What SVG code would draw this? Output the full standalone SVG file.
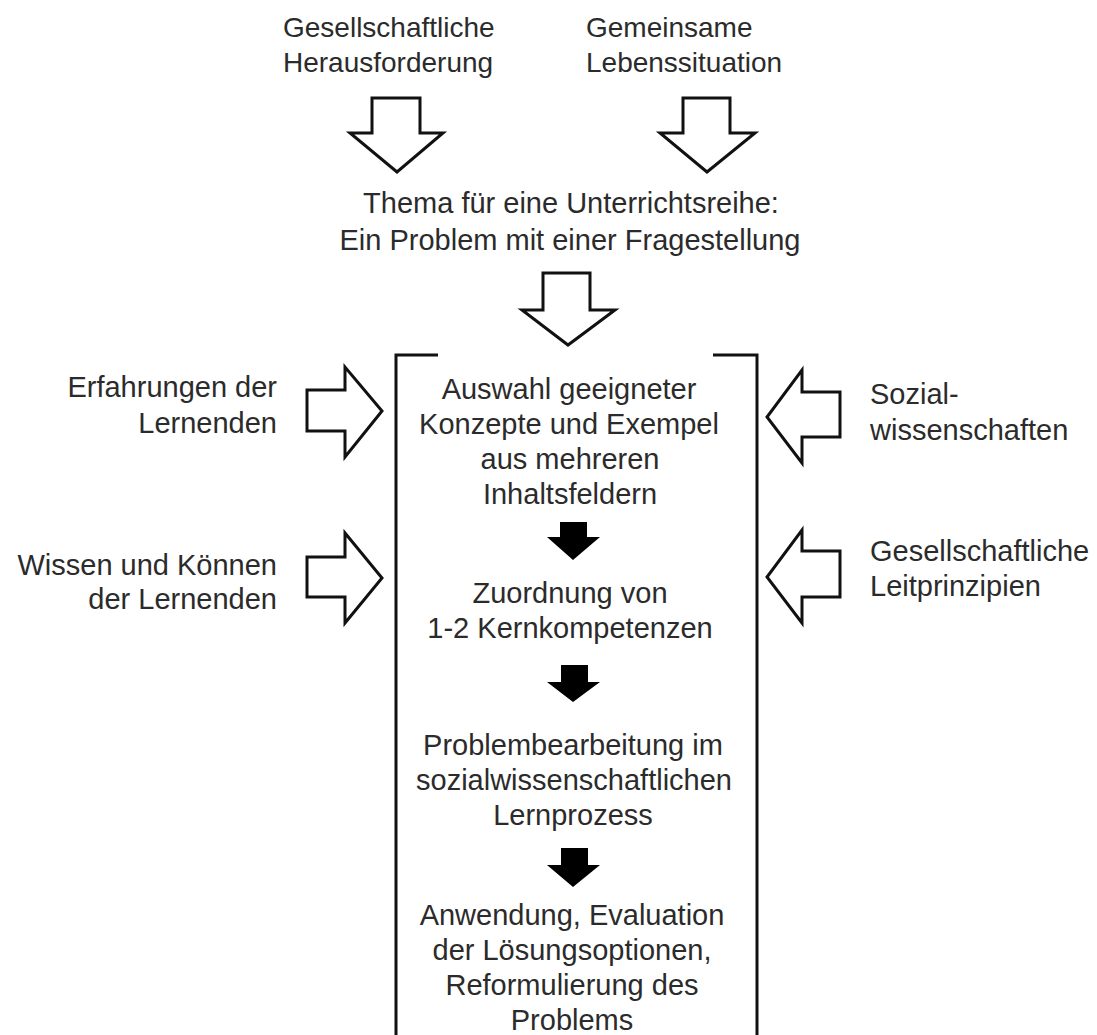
<svg xmlns="http://www.w3.org/2000/svg" width="1097" height="1035" viewBox="0 0 1097 1035">
<style>
text{font-family:"Liberation Sans",Arial,sans-serif;font-size:29px;fill:#2b2b2b}
.top{font-size:28px}
.c{text-anchor:middle}
.r{text-anchor:end}
.hollow{fill:#fff;stroke:#111;stroke-width:3;stroke-linejoin:miter}
.solid{fill:#000;stroke:none}
.bracket{fill:none;stroke:#111;stroke-width:3}
</style>
<rect width="1097" height="1035" fill="#fff"/>
<g id="node-gesellschaftliche-herausforderung">
<text class="top" x="283" y="37">Gesellschaftliche</text>
<text class="top" x="283" y="72">Herausforderung</text>
</g>
<g id="node-gemeinsame-lebenssituation">
<text class="top" x="586" y="37">Gemeinsame</text>
<text class="top" x="586" y="72">Lebenssituation</text>
</g>
<g id="node-thema">
<text class="c" x="571" y="213">Thema für eine Unterrichtsreihe:</text>
<text class="c" x="570" y="250">Ein Problem mit einer Fragestellung</text>
</g>
<g id="node-erfahrungen">
<text class="r" x="277" y="397">Erfahrungen der</text>
<text class="r" x="277" y="433">Lernenden</text>
</g>
<g id="node-wissen">
<text class="r" x="277" y="575">Wissen und Können</text>
<text class="r" x="277" y="609">der Lernenden</text>
</g>
<g id="node-sozialwissenschaften">
<text x="870" y="404">Sozial-</text>
<text x="870" y="440">wissenschaften</text>
</g>
<g id="node-leitprinzipien">
<text x="870" y="561">Gesellschaftliche</text>
<text x="870" y="596">Leitprinzipien</text>
</g>
<g id="node-prozess">
<path class="bracket" d="M438,355 H396 V1040 M713,355 H757 V1040"/>
<g id="step-auswahl">
<text class="c" x="569" y="399">Auswahl geeigneter</text>
<text class="c" x="569" y="434">Konzepte und Exempel</text>
<text class="c" x="570" y="469">aus mehreren</text>
<text class="c" x="570" y="504">Inhaltsfeldern</text>
</g>
<g id="step-zuordnung">
<text class="c" x="570" y="603">Zuordnung von</text>
<text class="c" x="570" y="638">1-2 Kernkompetenzen</text>
</g>
<g id="step-problembearbeitung">
<text class="c" x="573" y="755">Problembearbeitung im</text>
<text class="c" x="574" y="790">sozialwissenschaftlichen</text>
<text class="c" x="573" y="825">Lernprozess</text>
</g>
<g id="step-anwendung">
<text class="c" x="572" y="925">Anwendung, Evaluation</text>
<text class="c" x="572" y="960">der Lösungsoptionen,</text>
<text class="c" x="572" y="995">Reformulierung des</text>
<text class="c" x="572" y="1030">Problems</text>
</g>
</g>
<g id="connectors">
<path class="hollow" d="M372,98 H420 V133 H443 L397,172 L350,133 H372 Z"/>
<path class="hollow" d="M683,98 H730 V133 H755 L707,172 L660,133 H683 Z"/>
<path class="hollow" d="M543,273 H590 V310 H615 L568,345 L522,310 H543 Z"/>
<path class="hollow" d="M307,390 H345 V367 L382,411 L345,457 V431 H307 Z"/>
<path class="hollow" d="M307,557 H345 V533 L382,578 L345,623 V597 H307 Z"/>
<path class="hollow" d="M840,392 H802 V370 L767,417 L802,463 V437 H840 Z"/>
<path class="hollow" d="M840,551 H802 V530 L767,577 L802,623 V597 H840 Z"/>
<path class="solid" d="M560,522 H587 V537 H600 L573,560 L547,537 H560 Z"/>
<path class="solid" d="M561,665 H588 V682 H600 L573,702 L547,682 H561 Z"/>
<path class="solid" d="M561,848 H588 V865 H600 L573,887 L547,865 H561 Z"/>
</g>
</svg>
